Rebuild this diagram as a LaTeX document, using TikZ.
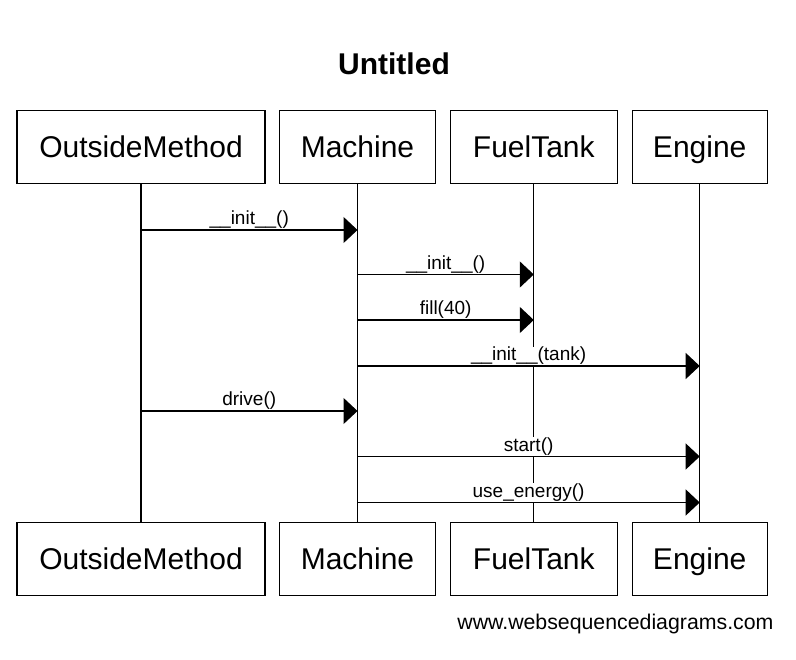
\documentclass[tikz,border=0pt]{standalone}
\usepackage{fontspec}
\setmainfont{Liberation Sans}
\usetikzlibrary{arrows.meta}

\tikzset{
  actor/.style={draw, line width=1.3pt, minimum height=73pt, inner sep=0pt,
    text height=27pt, text depth=5.5pt, font=\fontsize{30}{30}\selectfont},
  lifeline/.style={line width=1.3pt},
  msg/.style={line width=1.3pt, -{Triangle[length=14pt, width=26pt]}},
  msglabel/.style={fill=white, inner sep=0.5pt, anchor=south,
    font=\fontsize{19}{19}\selectfont}
}

\begin{document}
\begin{tikzpicture}[x=1pt, y=-1pt]
\useasboundingbox (0,0) rectangle (796,660);

\node[font=\bfseries\fontsize{30}{30}\selectfont] (title) at (394,64) {Untitled};

% participants, top row
\node[actor, minimum width=248pt] (om) at (141,146.7) {OutsideMethod};
\node[actor, minimum width=156pt] (ma) at (357.5,146.7) {Machine};
\node[actor, minimum width=167pt] (ft) at (533.8,146.7) {FuelTank};
\node[actor, minimum width=135pt] (en) at (699.7,146.7) {Engine};

% participants, bottom row
\node[actor, minimum width=248pt] (om2) at (141,559) {OutsideMethod};
\node[actor, minimum width=156pt] (ma2) at (357.5,559) {Machine};
\node[actor, minimum width=167pt] (ft2) at (533.8,559) {FuelTank};
\node[actor, minimum width=135pt] (en2) at (699.7,559) {Engine};

% lifelines
\draw[lifeline] (om.south) -- (om2.north);
\draw[lifeline] (ma.south) -- (ma2.north);
\draw[lifeline] (ft.south) -- (ft2.north);
\draw[lifeline] (en.south) -- (en2.north);

% messages
\draw[msg] (om.south |- 0,230) -- node[msglabel] {\_\_init\_\_()} (ma.south |- 0,230);
\draw[msg] (ma.south |- 0,274.5) -- node[msglabel] {\_\_init\_\_()} (ft.south |- 0,274.5);
\draw[msg] (ma.south |- 0,320) -- node[msglabel] {fill(40)} (ft.south |- 0,320);
\draw[msg] (ma.south |- 0,366) -- node[msglabel] {\_\_init\_\_(tank)} (en.south |- 0,366);
\draw[msg] (om.south |- 0,411) -- node[msglabel] {drive()} (ma.south |- 0,411);
\draw[msg] (ma.south |- 0,456.5) -- node[msglabel] {start()} (en.south |- 0,456.5);
\draw[msg] (ma.south |- 0,502.5) -- node[msglabel] {use\_energy()} (en.south |- 0,502.5);

\node[anchor=east, font=\fontsize{21.3}{21.3}\selectfont] (site) at (777,624) {www.websequencediagrams.com};
\end{tikzpicture}
\end{document}
